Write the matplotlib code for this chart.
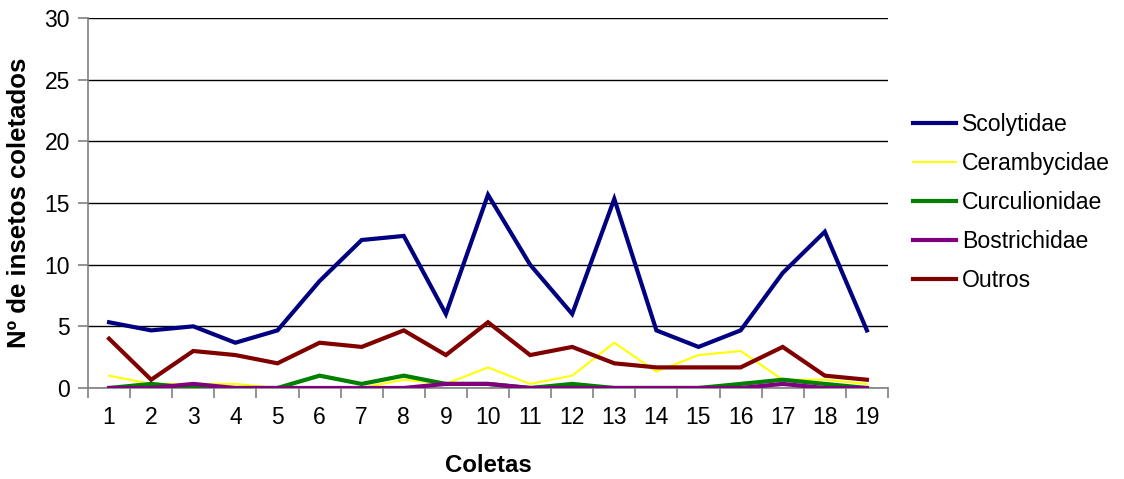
import matplotlib
matplotlib.use("Agg")
import matplotlib.pyplot as plt
from matplotlib.ticker import FixedLocator

plt.rcParams['font.family'] = ['Liberation Sans', 'DejaVu Sans']

coletas = list(range(1, 20))
scolytidae = [5.33, 4.67, 5.0, 3.67, 4.67, 8.67, 12.0, 12.33, 6.0, 15.67,
              10.0, 6.0, 15.33, 4.67, 3.33, 4.67, 9.33, 12.67, 4.67]
cerambycidae = [1.0, 0.33, 0.33, 0.33, 0.0, 0.0, 0.0, 0.67, 0.33, 1.67,
                0.33, 1.0, 3.67, 1.33, 2.67, 3.0, 0.67, 0.67, 0.33]
curculionidae = [0.0, 0.33, 0.0, 0.0, 0.0, 1.0, 0.33, 1.0, 0.33, 0.33,
                 0.0, 0.33, 0.0, 0.0, 0.0, 0.33, 0.67, 0.33, 0.0]
bostrichidae = [0.0, 0.0, 0.33, 0.0, 0.0, 0.0, 0.0, 0.0, 0.33, 0.33,
                0.0, 0.0, 0.0, 0.0, 0.0, 0.0, 0.33, 0.0, 0.0]
outros = [4.0, 0.67, 3.0, 2.67, 2.0, 3.67, 3.33, 4.67, 2.67, 5.33,
          2.67, 3.33, 2.0, 1.67, 1.67, 1.67, 3.33, 1.0, 0.67]

series = [
    ("Scolytidae", scolytidae, "#000080", 3.0),
    ("Cerambycidae", cerambycidae, "#FFFF00", 1.5),
    ("Curculionidae", curculionidae, "#008000", 3.0),
    ("Bostrichidae", bostrichidae, "#800080", 3.0),
    ("Outros", outros, "#800000", 3.0),
]

fig = plt.figure(figsize=(11.24, 4.79), dpi=100)
ax = fig.add_axes([0.0783, 0.19, 0.7117, 0.7724])

for name, vals, color, lw in series:
    ax.plot(coletas, vals, color=color, lw=lw, label=name,
            solid_joinstyle='miter', zorder=3)

ax.set_xlim(0.5, 19.5)
ax.set_ylim(0, 30)
ax.set_yticks(range(0, 31, 5))
ax.yaxis.grid(True, color='black', lw=1.0, zorder=1)
ax.set_axisbelow(True)

ax.set_xticks(coletas)
ax.set_xticklabels([str(c) for c in coletas])
ax.xaxis.set_minor_locator(FixedLocator([c + 0.5 for c in range(0, 20)]))
ax.tick_params(axis='x', which='major', length=0, pad=13, labelsize=16.5)
ax.tick_params(axis='x', which='minor', length=7, width=1.2, color='#808080')
ax.tick_params(axis='y', which='major', length=7, width=1.2, color='#808080',
               pad=6, labelsize=16.5)

for side in ('top', 'right'):
    ax.spines[side].set_visible(False)
for side in ('left', 'bottom'):
    ax.spines[side].set_color('#808080')
    ax.spines[side].set_linewidth(1.2)

ax.set_ylabel("Nº de insetos coletados", fontsize=18.5, fontweight='bold',
              labelpad=10)
ax.set_xlabel("Coletas", fontsize=17.3, fontweight='bold', labelpad=18)

fig.legend(loc='upper left', bbox_to_anchor=(913 / 1124, 1 - 113 / 479),
           frameon=False, fontsize=16.6, handlelength=1.85,
           handletextpad=0.28, labelspacing=0.69, borderpad=0,
           borderaxespad=0)

fig.savefig("out.png", dpi=100)
